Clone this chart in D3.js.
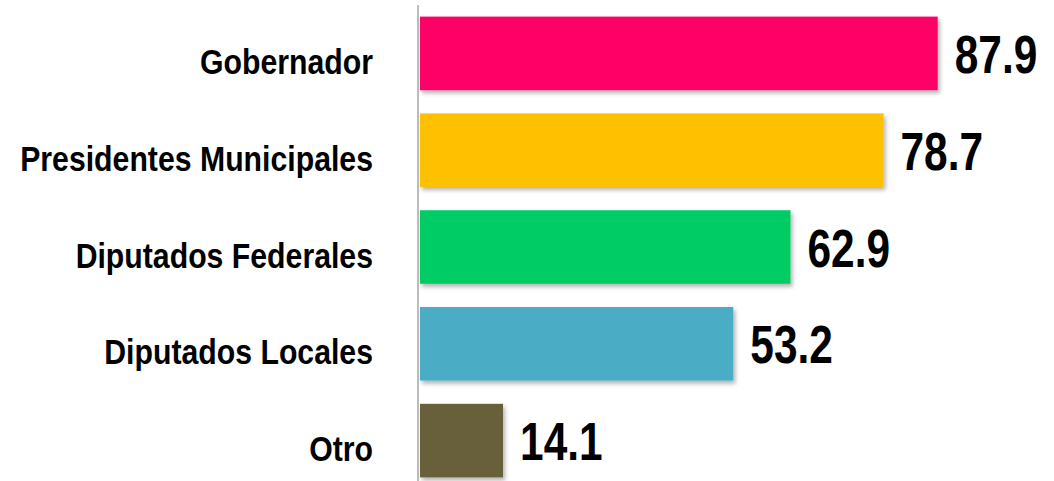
<!DOCTYPE html>
<html>
<head>
<meta charset="utf-8">
<script src="https://cdn.jsdelivr.net/npm/d3@7"></script>
<style>
  body { margin: 0; background: #fff; }
  text { font-family: "Liberation Sans Narrow", "Arial Narrow", "Liberation Sans", Arial, sans-serif; font-weight: bold; }
</style>
</head>
<body>
<div id="chart"></div>
<script>
const categories = ['Gobernador', 'Presidentes Municipales', 'Diputados Federales', 'Diputados Locales', 'Otro'];
const values = [87.9, 78.7, 62.9, 53.2, 14.1];
const colors = ['#FF0066', '#FFC000', '#00CC66', '#4BACC6', '#675F3B'];

const width = 1054, height = 481;
const axisX = 418;
const narrow = 0.84; // no narrow font installed, squeeze the regular one

const svg = d3.select('#chart')
  .append('svg')
  .attr('width', width)
  .attr('height', height);

// soft drop shadow under the bars
const defs = svg.append('defs');
const shadow = defs.append('filter').attr('id', 'shadow')
  .attr('x', '-5%').attr('y', '-5%').attr('width', '115%').attr('height', '130%');
shadow.append('feDropShadow')
  .attr('dx', 2).attr('dy', 3).attr('stdDeviation', 2)
  .attr('flood-color', '#000').attr('flood-opacity', 0.3);

const x = d3.scaleLinear()
  .domain([0, 100])
  .range([axisX + 2, axisX + 2 + 589]);

const y = d3.scaleBand()
  .domain(categories)
  .range([5, 489])
  .paddingInner(0.24)
  .paddingOuter(0.12);

const data = categories.map((c, i) => ({ cat: c, val: values[i], color: colors[i] }));
const mid = d => y(d.cat) + y.bandwidth() / 2;

// Bars
svg.selectAll('rect.bar')
  .data(data)
  .enter()
  .append('rect')
    .attr('class', 'bar')
    .attr('x', x(0))
    .attr('y', d => y(d.cat))
    .attr('width', d => x(d.val) - x(0))
    .attr('height', y.bandwidth())
    .attr('fill', d => d.color)
    .attr('filter', 'url(#shadow)');

// Axis line
svg.append('line')
  .attr('x1', axisX).attr('x2', axisX)
  .attr('y1', 5).attr('y2', height)
  .attr('stroke', '#A6A6A6')
  .attr('stroke-width', 1.5);

// Category labels
svg.selectAll('text.cat')
  .data(data)
  .enter()
  .append('text')
    .attr('class', 'cat')
    .attr('transform', d => `translate(373,${mid(d) + 20.5}) scale(${narrow},1)`)
    .attr('text-anchor', 'end')
    .attr('font-size', 36)
    .attr('fill', '#000')
    .text(d => d.cat);

// Value labels
svg.selectAll('text.val')
  .data(data)
  .enter()
  .append('text')
    .attr('class', 'val')
    .attr('transform', d => `translate(${x(d.val) + 17},${mid(d) + 19.5}) scale(0.8,1)`)
    .attr('font-size', 53)
    .attr('fill', '#000')
    .text(d => d3.format('.1f')(d.val));
</script>
</body>
</html>
